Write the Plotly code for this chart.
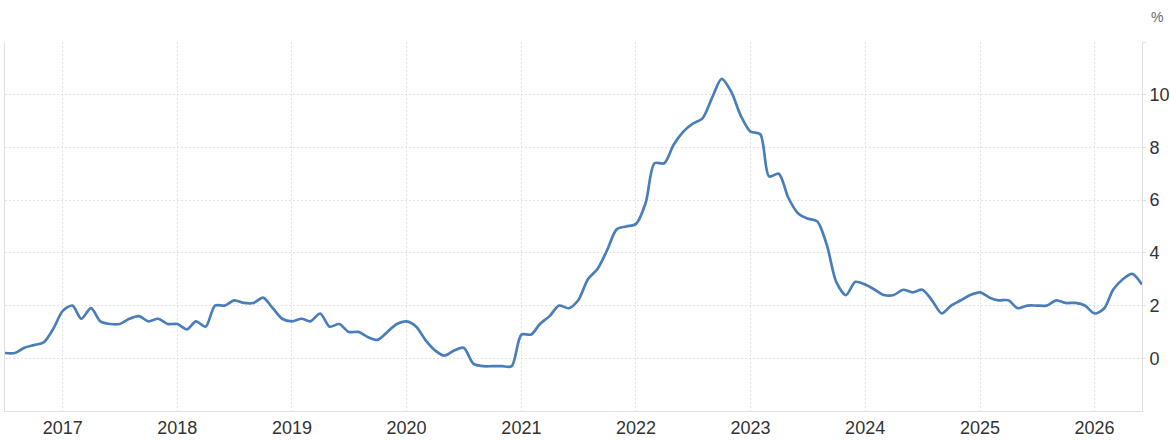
import pandas as pd
import plotly.graph_objects as go

start_month = "2016-07-01"
inflation = [
    # 2016 Jul-Dec
    0.2, 0.2, 0.4, 0.5, 0.6, 1.1,
    # 2017
    1.8, 2.0, 1.5, 1.9, 1.4, 1.3, 1.3, 1.5, 1.6, 1.4, 1.5, 1.3,
    # 2018
    1.3, 1.1, 1.4, 1.2, 2.0, 2.0, 2.2, 2.1, 2.1, 2.3, 1.9, 1.5,
    # 2019
    1.4, 1.5, 1.4, 1.7, 1.2, 1.3, 1.0, 1.0, 0.8, 0.7, 1.0, 1.3,
    # 2020
    1.4, 1.2, 0.7, 0.3, 0.1, 0.3, 0.4, -0.2, -0.3, -0.3, -0.3, -0.3,
    # 2021
    0.9, 0.9, 1.3, 1.6, 2.0, 1.9, 2.2, 3.0, 3.4, 4.1, 4.9, 5.0,
    # 2022
    5.1, 5.9, 7.4, 7.4, 8.1, 8.6, 8.9, 9.1, 9.9, 10.6, 10.1, 9.2,
    # 2023
    8.6, 8.5, 6.9, 7.0, 6.1, 5.5, 5.3, 5.2, 4.3, 2.9, 2.4, 2.9,
    # 2024
    2.8, 2.6, 2.4, 2.4, 2.6, 2.5, 2.6, 2.2, 1.7, 2.0, 2.2, 2.4,
    # 2025
    2.5, 2.3, 2.2, 2.2, 1.9, 2.0, 2.0, 2.0, 2.2, 2.1, 2.1, 2.0,
    # 2026 Jan-Jun
    1.7, 1.9, 2.6, 3.0, 3.2, 2.8,
]
dates = pd.date_range(start_month, periods=len(inflation), freq="MS")

year_ticks = [f"{y}-01-01" for y in range(2017, 2027)]
year_labels = [str(y) for y in range(2017, 2027)]
y_ticks = [0, 2, 4, 6, 8, 10, 12]
y_labels = ["0", "2", "4", "6", "8", "10", ""]

fig = go.Figure(
    go.Scatter(
        x=dates,
        y=inflation,
        mode="lines",
        line=dict(color="#4a7ebb", width=2.7, shape="spline", smoothing=0.8),
        hoverinfo="skip",
    )
)

fig.update_layout(
    width=1170,
    height=441,
    margin=dict(l=5, r=28, t=42, b=30),
    paper_bgcolor="white",
    plot_bgcolor="white",
    showlegend=False,
    font=dict(family="Liberation Sans, Arial, sans-serif", size=18, color="#333333"),
    xaxis=dict(
        range=["2016-07-01", "2026-06-01"],
        tickvals=year_ticks,
        ticktext=year_labels,
        automargin=False,
        showgrid=True,
        gridcolor="#e3e3e3",
        griddash="2px,2px",
        gridwidth=1,
        showline=True,
        linecolor="#e0e0e0",
        linewidth=1,
        ticks="",
        zeroline=False,
        tickfont=dict(size=18, color="#333333"),
    ),
    yaxis=dict(
        side="right",
        range=[-2, 12],
        tickvals=y_ticks,
        ticktext=y_labels,
        automargin=False,
        showgrid=True,
        gridcolor="#e3e3e3",
        griddash="2px,2px",
        gridwidth=1,
        showline=True,
        mirror=True,
        linecolor="#e0e0e0",
        linewidth=1,
        ticks="outside",
        ticklen=3,
        tickcolor="#e0e0e0",
        zeroline=False,
        tickfont=dict(size=18, color="#333333"),
    ),
    annotations=[
        dict(
            text="%",
            xref="paper",
            yref="paper",
            x=1.0132,
            y=1.067,
            xanchor="center",
            yanchor="middle",
            showarrow=False,
            font=dict(size=14, color="#666666"),
        )
    ],
)

fig.write_html("out.html")
